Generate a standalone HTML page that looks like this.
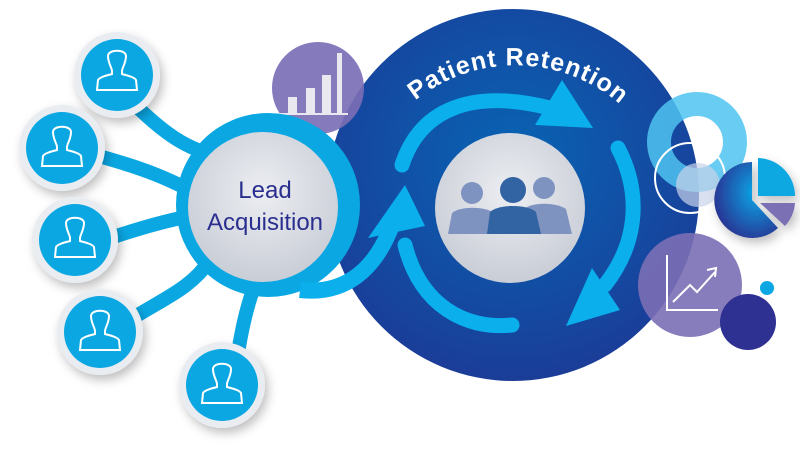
<!DOCTYPE html>
<html><head><meta charset="utf-8"><style>html,body{margin:0;padding:0;background:#fff;width:800px;height:463px;overflow:hidden}</style></head>
<body>
<svg width="800" height="463" viewBox="0 0 800 463" xmlns="http://www.w3.org/2000/svg">
<defs>
<radialGradient id="big" cx="0.5" cy="0.4" r="0.6"><stop offset="0" stop-color="#0864b4"/><stop offset="1" stop-color="#1a3d98"/></radialGradient>
<radialGradient id="gray" cx="0.5" cy="0.4" r="0.6"><stop offset="0" stop-color="#eceef2"/><stop offset="1" stop-color="#c9cdd6"/></radialGradient>
<radialGradient id="pie" cx="0.65" cy="0.4" r="0.7"><stop offset="0" stop-color="#0aa8e8"/><stop offset="1" stop-color="#2a2f8f"/></radialGradient>
<filter id="sh" x="-30%" y="-30%" width="160%" height="160%"><feDropShadow dx="3" dy="5" stdDeviation="5" flood-color="#000" flood-opacity="0.25"/></filter>
<g id="person"><path d="M-9,-17 C-9,-24 9,-24 9,-17 C9,-10 5,-5 5,-2 L5,1 C12,3 17,4 19,7 L20,17 L-20,17 L-19,7 C-17,4 -12,3 -5,1 L-5,-2 C-5,-5 -9,-10 -9,-17 Z" fill="none" stroke="#fff" stroke-width="2"/></g>
<path id="arc" d="M395,120 A160,160 0 0 1 640,125" fill="none"/>
</defs>
<circle cx="513" cy="195" r="186" fill="url(#big)"/>
<circle cx="318" cy="88" r="46" fill="#7b6fb5" opacity="0.92"/>
<g fill="#e8e8ee"><rect x="288" y="97" width="9" height="16"/><rect x="306" y="88" width="9" height="25"/><rect x="322" y="75" width="9" height="38"/><rect x="337" y="53" width="5" height="60"/><rect x="278" y="113" width="70" height="2"/></g>
<g stroke="#0aa7e2" stroke-width="14" fill="none" stroke-linecap="round">
<path d="M130,100 C170,140 190,150 230,160"/>
<path d="M95,155 C150,170 170,180 200,195"/>
<path d="M110,238 C150,225 170,220 195,215"/>
<path d="M130,320 C160,300 190,290 210,260"/>
<path d="M235,370 C240,340 245,310 255,285"/>
</g>
<circle cx="268" cy="205" r="92" fill="#0aa7e2"/>
<path d="M300,290 C345,295 375,270 392,225" stroke="#0aafec" stroke-width="16" fill="none"/>
<polygon points="368,238 425,226 405,185" fill="#0aafec"/>
<circle cx="263" cy="207" r="75" fill="url(#gray)"/>
<text x="265" y="198" text-anchor="middle" font-family="Liberation Sans, sans-serif" font-size="24" fill="#2a2f8f">Lead</text>
<text x="265" y="230" text-anchor="middle" font-family="Liberation Sans, sans-serif" font-size="24" fill="#2a2f8f">Acquisition</text>
<g filter="url(#sh)">
<circle cx="117" cy="75" r="43" fill="#e9ecf1"/><circle cx="62" cy="148" r="43" fill="#e9ecf1"/><circle cx="75" cy="240" r="43" fill="#e9ecf1"/><circle cx="100" cy="332" r="43" fill="#e9ecf1"/><circle cx="222" cy="385" r="43" fill="#e9ecf1"/>
</g>
<g fill="#0aa7e2"><circle cx="117" cy="75" r="36"/><circle cx="62" cy="148" r="36"/><circle cx="75" cy="240" r="36"/><circle cx="100" cy="332" r="36"/><circle cx="222" cy="385" r="36"/></g>
<use href="#person" x="117" y="73"/><use href="#person" x="62" y="149"/><use href="#person" x="75" y="240"/><use href="#person" x="100" y="333"/><use href="#person" x="222" y="386"/>
<g stroke="#0aafec" stroke-width="15" fill="none" stroke-linecap="round">
<path d="M402,165 C420,110 470,88 550,108"/>
<path d="M618,148 C640,190 640,240 605,285"/>
<path d="M512,325 C465,330 420,305 405,245"/>
</g>
<polygon points="562,80 593,128 535,125" fill="#0aafec"/>
<polygon points="592,268 620,310 566,326" fill="#0aafec"/>
<circle cx="510" cy="208" r="75" fill="url(#gray)"/>
<g fill="#7f93c0"><circle cx="472" cy="193" r="11"/><path d="M448,234 L452,213 C460,206 485,206 494,213 L498,234Z"/>
<circle cx="544" cy="188" r="11"/><path d="M520,234 L524,209 C532,202 556,202 566,209 L572,234Z"/></g>
<g fill="#3263a3"><circle cx="513" cy="190" r="13"/><path d="M487,234 L490,212 C498,204 528,204 536,212 L541,234Z"/></g>
<text font-family="Liberation Sans, sans-serif" font-weight="bold" font-size="25" fill="#fff" letter-spacing="1"><textPath href="#arc" startOffset="50%" text-anchor="middle">Patient Retention</textPath></text>
<circle cx="697" cy="142" r="38" fill="none" stroke="#4fc3f0" stroke-width="24" opacity="0.85"/>
<circle cx="698" cy="185" r="22" fill="#c9d3ea" opacity="0.7"/>
<circle cx="690" cy="178" r="35" fill="none" stroke="#fff" stroke-width="2"/>
<g filter="url(#sh)"><path d="M752,200 L752,162 A38,38 0 1 0 778,228 Z" fill="url(#pie)"/>
<path d="M758,196 L758,158 A38,38 0 0 1 795,196 Z" fill="#0aa7e2"/>
<path d="M760,203 L795,203 A38,38 0 0 1 785,226 Z" fill="#7b6fb5"/></g>
<circle cx="690" cy="285" r="52" fill="#7b6fb5" opacity="0.9"/>
<g stroke="#fff" stroke-width="2" fill="none"><path d="M667,255 L667,310 L718,310"/><path d="M673,302 L690,285 L697,292 L715,272"/><path d="M707,270 L716,268 L715,277"/></g>
<circle cx="748" cy="322" r="28" fill="#2e3192"/>
<circle cx="767" cy="288" r="7" fill="#0aa7e2"/>
</svg>
</body></html>
